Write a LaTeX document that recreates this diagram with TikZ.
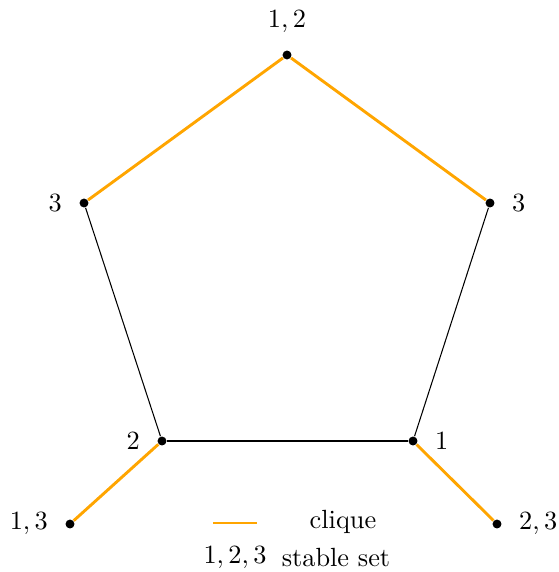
\documentclass[tikz,border=0pt]{standalone}
\usepackage{xcolor}
\usetikzlibrary{positioning}
\definecolor{cliqueorange}{RGB}{255,165,0}
\tikzset{
    vtx/.style={circle, fill=black, inner sep=0pt, minimum size=3.4pt},
    clq/.style={draw=cliqueorange, line width=1.1pt},
    edg/.style={draw=black, line width=0.4pt}
}

\begin{document}
\begin{tikzpicture}[x=0.38pt, y=-0.38pt, label distance=3pt]
    \useasboundingbox (0,0) rectangle (558,572);

    % Pentagon vertices
    \node[vtx, label=above:{$1,2$}] (top) at (287,55) {};
    \node[vtx, label=left:{$3$}] (left) at (84,203) {};
    \node[vtx, label=right:{$3$}] (right) at (490,203) {};
    \node[vtx, label=left:{$2$}] (botl) at (162,441) {};
    \node[vtx, label=right:{$1$}] (botr) at (413,441) {};

    % Pendant vertices
    \node[vtx, label=left:{$1,3$}] (pendl) at (70,524) {};
    \node[vtx, label=right:{$2,3$}] (pendr) at (497,524) {};

    % Edges
    \draw[edg] (left) -- (botl);
    \draw[edg] (botl) -- (botr);
    \draw[edg] (botr) -- (right);

    % Cliques
    \draw[clq] (left) -- (top);
    \draw[clq] (top) -- (right);
    \draw[clq] (botl) -- (pendl);
    \draw[clq] (botr) -- (pendr);

    % Legend
    \coordinate (lega) at (213,523);
    \coordinate (legb) at (257,523);
    \draw[clq] (lega) -- (legb);
    \node (cliquetxt) at (343,522) {clique};
    \node (stabnum) at (235,558) {$1,2,3$};
    \node (stabtxt) at (336,558) {stable set};

\end{tikzpicture}
\end{document}
